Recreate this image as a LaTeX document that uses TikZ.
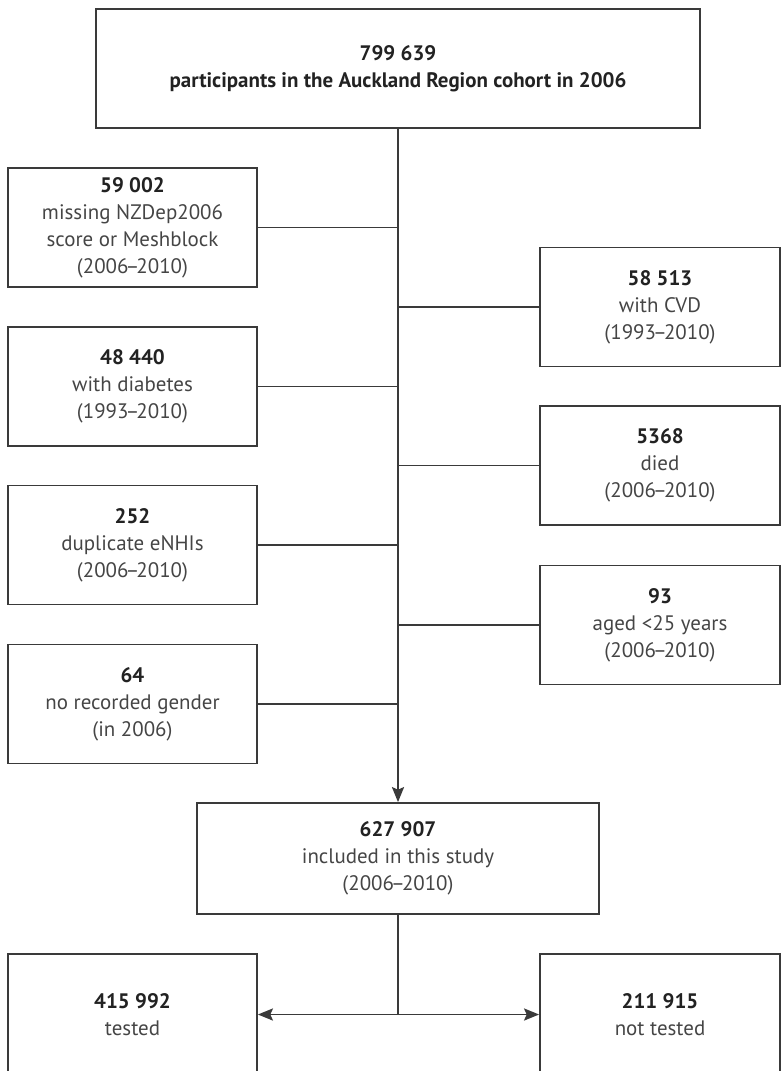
\documentclass[tikz,border=0pt]{standalone}
\usepackage{fontspec}
\setmainfont{PT Sans}
\usetikzlibrary{arrows.meta}
\definecolor{trait}{HTML}{3A3A3A}
\definecolor{texte}{HTML}{454545}
\definecolor{chiffre}{HTML}{222222}
\newcommand{\nb}[1]{\textbf{\color{chiffre}#1}}%effectif en gras
\newcommand{\per}[2]{(#1\kern-0.14em--\kern-0.14em#2)}%periode
\tikzset{
 boite/.style={draw=trait, line width=0.8pt, align=center, text=texte, inner sep=0pt,
  font=\fontsize{9.3}{12}\selectfont, minimum height=119*0.444pt},
 gauche/.style={boite, minimum width=249*0.444pt},%boites de gauche
 droite/.style={boite, minimum width=240*0.444pt},%boites de droite
 lien/.style={draw=trait, line width=0.8pt},
 fleche/.style={lien, -{Stealth[length=6.7pt, width=5.4pt, inset=1.2pt]}}
}
\begin{document}
\begin{tikzpicture}[x=0.444pt, y=-0.444pt]
\useasboundingbox (0,0) rectangle (781,1071);%marges de l'image
\node[boite, minimum width=604*0.444pt] (haut) at (398,68.5)
 {\nb{799 639}\\ \nb{participants in the Auckland Region cohort in 2006}};
%exclusions a gauche
\node[gauche] (g1) at (132.5,227.5) {\nb{59 002}\\ missing NZDep2006\\ score or Meshblock\\ \per{2006}{2010}};
\node[gauche] (g2) at (132.5,386.5) {\nb{48 440}\\ with diabetes\\ \per{1993}{2010}};
\node[gauche] (g3) at (132.5,545) {\nb{252}\\ duplicate eNHIs\\ \per{2006}{2010}};
\node[gauche] (g4) at (132.5,704) {\nb{64}\\ no recorded gender\\ (in 2006)};
%exclusions a droite
\node[droite] (d1) at (660,307) {\nb{58 513}\\ with CVD\\ \per{1993}{2010}};
\node[droite] (d2) at (660,465.5) {\nb{5368}\\ died\\ \per{2006}{2010}};
\node[droite] (d3) at (660,625) {\nb{93}\\ aged <25 years\\ \per{2006}{2010}};
%cohorte retenue
\node[boite, minimum width=402*0.444pt, minimum height=111*0.444pt] (inclus) at (398,858.5)
 {\nb{627 907}\\ included in this study\\ \per{2006}{2010}};
\node[gauche, minimum height=121*0.444pt] (teste) at (132.5,1014.5) {\nb{415 992}\\ tested};
\node[droite, minimum height=121*0.444pt] (nonteste) at (660,1014.5) {\nb{211 915}\\ not tested};
\draw[fleche] (haut.south) -- (inclus.north);%axe principal
\foreach \b in {g1,g2,g3,g4}
 \draw[lien] (\b.east) -- (\b.east -| haut.south);
\foreach \b in {d1,d2,d3}
 \draw[lien] (\b.west) -- (\b.west -| haut.south);
\draw[lien] (inclus.south) -- (inclus.south |- teste.east) coordinate (bif);
\draw[fleche] (bif) -- (teste.east);
\draw[fleche] (bif) -- (nonteste.west);
\end{tikzpicture}
\end{document}
